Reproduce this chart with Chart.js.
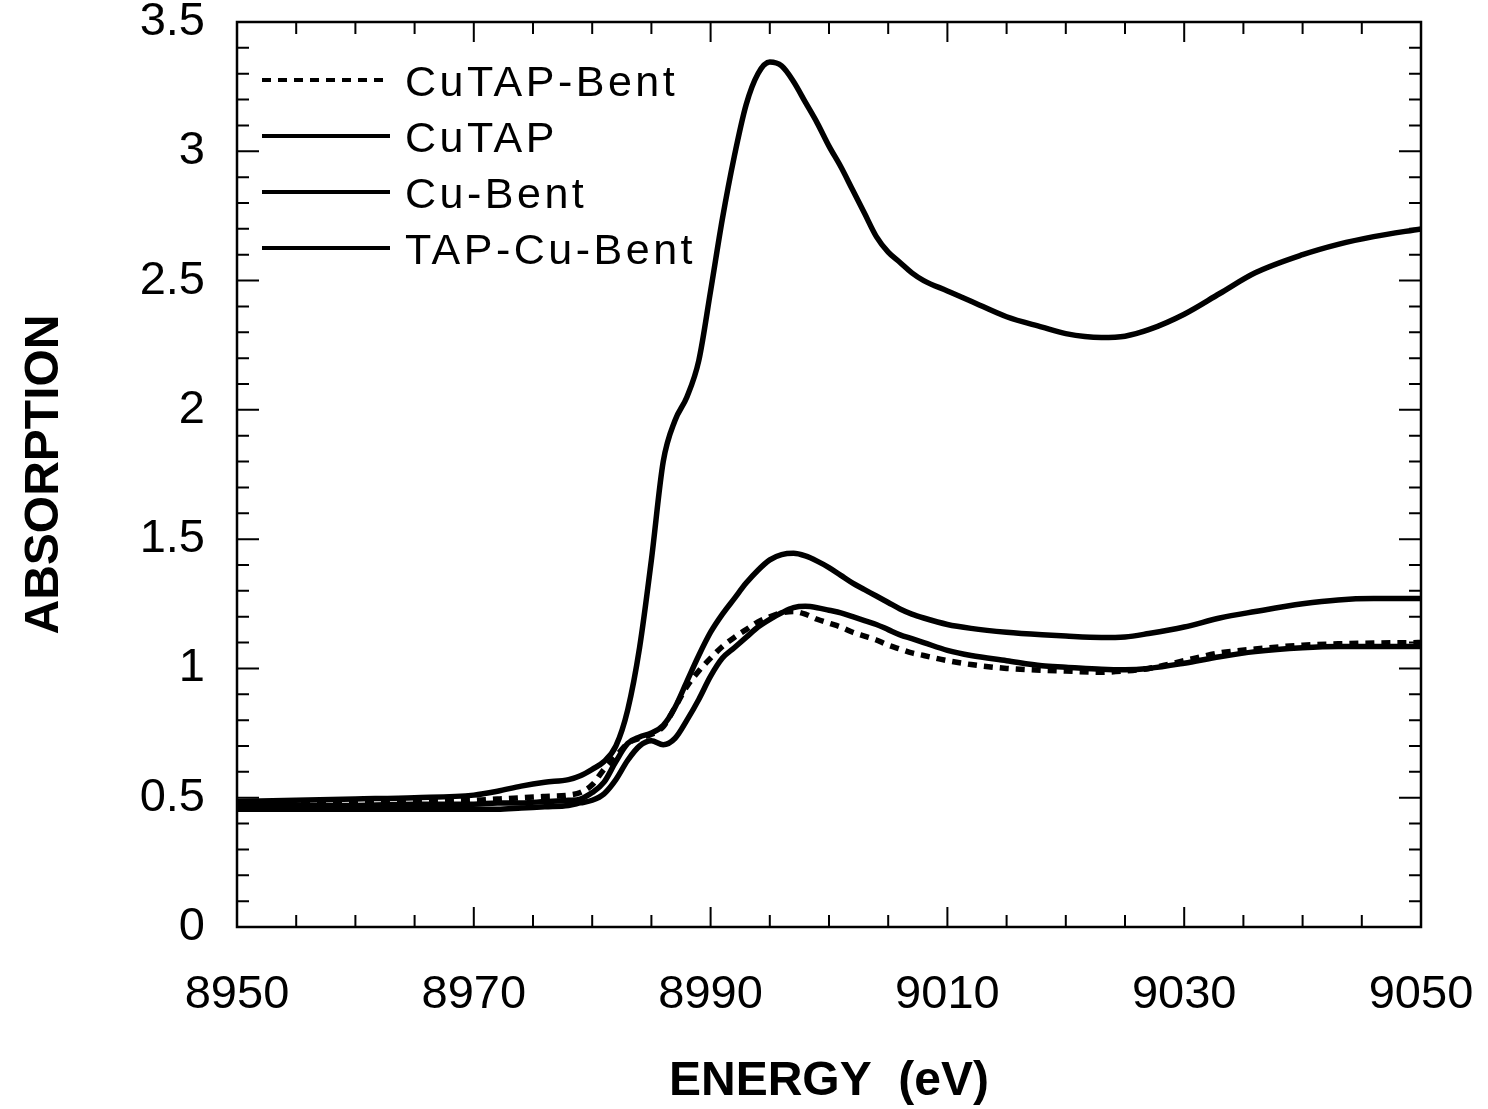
<!DOCTYPE html>
<html>
<head>
<meta charset="utf-8">
<script src="https://cdn.jsdelivr.net/npm/chart.js@4/dist/chart.umd.min.js"></script>
<style>
  html, body { margin: 0; padding: 0; background: #fff; }
  canvas { display: block; }
</style>
</head>
<body>
<canvas id="xanesChart" width="1488" height="1109"></canvas>
<script>
// energy grid (eV) shared by all curves
const energy = [
    8950, 8955, 8960, 8965, 8970, 8972, 8974, 8976, 8978, 8979,
    8980, 8981, 8982, 8983, 8984, 8985, 8986, 8987, 8988, 8989,
    8990, 8991, 8992, 8993, 8994, 8995, 8996, 8997, 8998, 8999,
    9000, 9001, 9002, 9003, 9004, 9005, 9006, 9007, 9008, 9010,
    9012, 9015, 9018, 9020, 9023, 9025, 9027, 9030, 9033, 9036,
    9040, 9043, 9046, 9050
];

const cuTapBent = [
    0.475, 0.478, 0.48, 0.485, 0.49, 0.495, 0.50, 0.505, 0.51, 0.52,
    0.55, 0.61, 0.66, 0.71, 0.73, 0.745, 0.775, 0.85, 0.93, 0.99,
    1.04, 1.085, 1.12, 1.15, 1.18, 1.20, 1.215, 1.22, 1.21, 1.19,
    1.175, 1.16, 1.14, 1.125, 1.11, 1.09, 1.075, 1.06, 1.05, 1.03,
    1.015, 1.0, 0.993, 0.99, 0.985, 0.99, 1.0, 1.03, 1.06, 1.075,
    1.09, 1.095, 1.098, 1.10
];

const cuTap = [
    0.485, 0.49, 0.495, 0.50, 0.51, 0.525, 0.545, 0.56, 0.57, 0.585,
    0.61, 0.64, 0.70, 0.84, 1.08, 1.42, 1.80, 1.96, 2.05, 2.19,
    2.46, 2.74, 2.98, 3.18, 3.30, 3.345, 3.33, 3.27, 3.19, 3.11,
    3.02, 2.94, 2.85, 2.76, 2.67, 2.61, 2.57, 2.53, 2.50, 2.46,
    2.42, 2.36, 2.32, 2.295, 2.28, 2.285, 2.31, 2.37, 2.45, 2.53,
    2.60, 2.64, 2.67, 2.70
];

const cuBent = [
    0.47, 0.47, 0.47, 0.475, 0.475, 0.48, 0.48, 0.485, 0.49, 0.495,
    0.52, 0.56, 0.64, 0.71, 0.735, 0.75, 0.78, 0.85, 0.95, 1.05,
    1.14, 1.21, 1.27, 1.33, 1.38, 1.42, 1.44, 1.445, 1.435, 1.415,
    1.39, 1.36, 1.33, 1.305, 1.28, 1.255, 1.23, 1.21, 1.195, 1.17,
    1.155, 1.14, 1.13, 1.125, 1.12, 1.122, 1.135, 1.16, 1.195, 1.22,
    1.25, 1.265, 1.27, 1.27
];

const tapCuBent = [
    0.455, 0.455, 0.455, 0.455, 0.455, 0.455, 0.46, 0.465, 0.47, 0.48,
    0.49, 0.515, 0.57, 0.645, 0.70, 0.72, 0.705, 0.73, 0.80, 0.88,
    0.97, 1.04, 1.08, 1.12, 1.16, 1.19, 1.215, 1.235, 1.24, 1.235,
    1.225, 1.215, 1.20, 1.185, 1.17, 1.15, 1.13, 1.115, 1.10, 1.07,
    1.05, 1.03, 1.01, 1.005, 0.997, 0.995, 1.0, 1.02, 1.045, 1.065,
    1.08, 1.085, 1.085, 1.085
];

const seriesNames = ["CuTAP-Bent", "CuTAP", "Cu-Bent", "TAP-Cu-Bent"];
const xTicks = [8950, 8970, 8990, 9010, 9030, 9050];
const yTicks = [0, 0.5, 1, 1.5, 2, 2.5, 3, 3.5];
const xMinorStep = 5;
const yMinorStep = 0.1;

function toPoints(values) {
    return energy.map((e, i) => ({ x: e, y: values[i] }));
}

function makeSet(label, values, dash) {
    return {
        label: label,
        data: toPoints(values),
        borderColor: "#000",
        borderWidth: 5.5,
        borderDash: dash,
        pointRadius: 0,
        cubicInterpolationMode: "monotone",
        fill: false
    };
}

// inward ticks on all four sides plus the frame
const frameTicks = {
    id: "frameTicks",
    afterDatasetsDraw(chart) {
        const { ctx, chartArea: a, scales: { x, y } } = chart;
        ctx.save();
        ctx.strokeStyle = "#000";
        ctx.lineWidth = 2;
        ctx.beginPath();
        const nx = Math.round((xTicks[xTicks.length - 1] - xTicks[0]) / xMinorStep);
        for (let i = 1; i < nx; i++) {
            const v = xTicks[0] + i * xMinorStep;
            const px = x.getPixelForValue(v);
            const len = xTicks.includes(v) ? 20 : 12;
            ctx.moveTo(px, a.bottom); ctx.lineTo(px, a.bottom - len);
            ctx.moveTo(px, a.top); ctx.lineTo(px, a.top + len);
        }
        const ny = Math.round((yTicks[yTicks.length - 1] - yTicks[0]) / yMinorStep);
        for (let i = 1; i < ny; i++) {
            const v = yTicks[0] + i * yMinorStep;
            const py = y.getPixelForValue(v);
            const len = i % 5 === 0 ? 22 : 12;
            ctx.moveTo(a.left, py); ctx.lineTo(a.left + len, py);
            ctx.moveTo(a.right, py); ctx.lineTo(a.right - len, py);
        }
        ctx.stroke();
        ctx.lineWidth = 2.5;
        ctx.strokeRect(a.left, a.top, a.right - a.left, a.bottom - a.top);
        ctx.restore();
    }
};

// legend drawn inside the plot, upper left
const insideLegend = {
    id: "insideLegend",
    afterDatasetsDraw(chart) {
        const { ctx, chartArea: a } = chart;
        ctx.save();
        ctx.font = "43px 'Liberation Sans', Arial, sans-serif";
        ctx.letterSpacing = "3.5px";
        ctx.fillStyle = "#000";
        ctx.textBaseline = "middle";
        chart.data.datasets.forEach((ds, i) => {
            const yy = a.top + 58 + i * 56;
            ctx.beginPath();
            ctx.setLineDash(ds.borderDash || []);
            ctx.lineWidth = 4;
            ctx.strokeStyle = "#000";
            ctx.moveTo(a.left + 25, yy);
            ctx.lineTo(a.left + 153, yy);
            ctx.stroke();
            ctx.setLineDash([]);
            ctx.fillText(ds.label, a.left + 168, yy + 4);
        });
        ctx.restore();
    }
};

const ctx = document.getElementById("xanesChart").getContext("2d");

new Chart(ctx, {
    type: "line",
    data: {
        datasets: [
            makeSet(seriesNames[0], cuTapBent, [9, 7]),
            makeSet(seriesNames[1], cuTap, []),
            makeSet(seriesNames[2], cuBent, []),
            makeSet(seriesNames[3], tapCuBent, [])
        ]
    },
    options: {
        responsive: false,
        animation: false,
        devicePixelRatio: 1,
        layout: { padding: { left: 0, top: 22, right: 67, bottom: 0 } },
        plugins: {
            legend: { display: false },
            tooltip: { enabled: false }
        },
        scales: {
            x: {
                type: "linear",
                min: 8950,
                max: 9050,
                afterBuildTicks: s => { s.ticks = xTicks.map(v => ({ value: v })); },
                afterFit: s => {
                    s.height = 182;
                    s.paddingLeft = 0;
                    s.paddingRight = 0;
                },
                grid: { display: false, drawTicks: false },
                border: { display: false },
                ticks: {
                    color: "#000",
                    padding: 40,
                    maxRotation: 0,
                    font: { family: "'Liberation Sans', Arial, sans-serif", size: 47 },
                    callback: v => String(v)
                },
                title: {
                    display: true,
                    text: "ENERGY  (eV)",
                    color: "#000",
                    padding: { top: 0, bottom: 3 },
                    font: { family: "'Liberation Sans', Arial, sans-serif", size: 48, weight: "bold", lineHeight: 1 }
                }
            },
            y: {
                type: "linear",
                min: 0,
                max: 3.5,
                afterBuildTicks: s => { s.ticks = yTicks.map(v => ({ value: v })); },
                afterFit: s => {
                    s.width = 237;
                    s.paddingTop = 0;
                    s.paddingBottom = 0;
                },
                grid: { display: false, drawTicks: false },
                border: { display: false },
                ticks: {
                    color: "#000",
                    padding: 32,
                    font: { family: "'Liberation Sans', Arial, sans-serif", size: 47 },
                    callback: v => String(v)
                },
                title: {
                    display: true,
                    text: "ABSORPTION",
                    color: "#000",
                    padding: { top: 21, bottom: 0 },
                    font: { family: "'Liberation Sans', Arial, sans-serif", size: 48, weight: "bold", lineHeight: 1 }
                }
            }
        }
    },
    plugins: [frameTicks, insideLegend]
});
</script>
</body>
</html>
